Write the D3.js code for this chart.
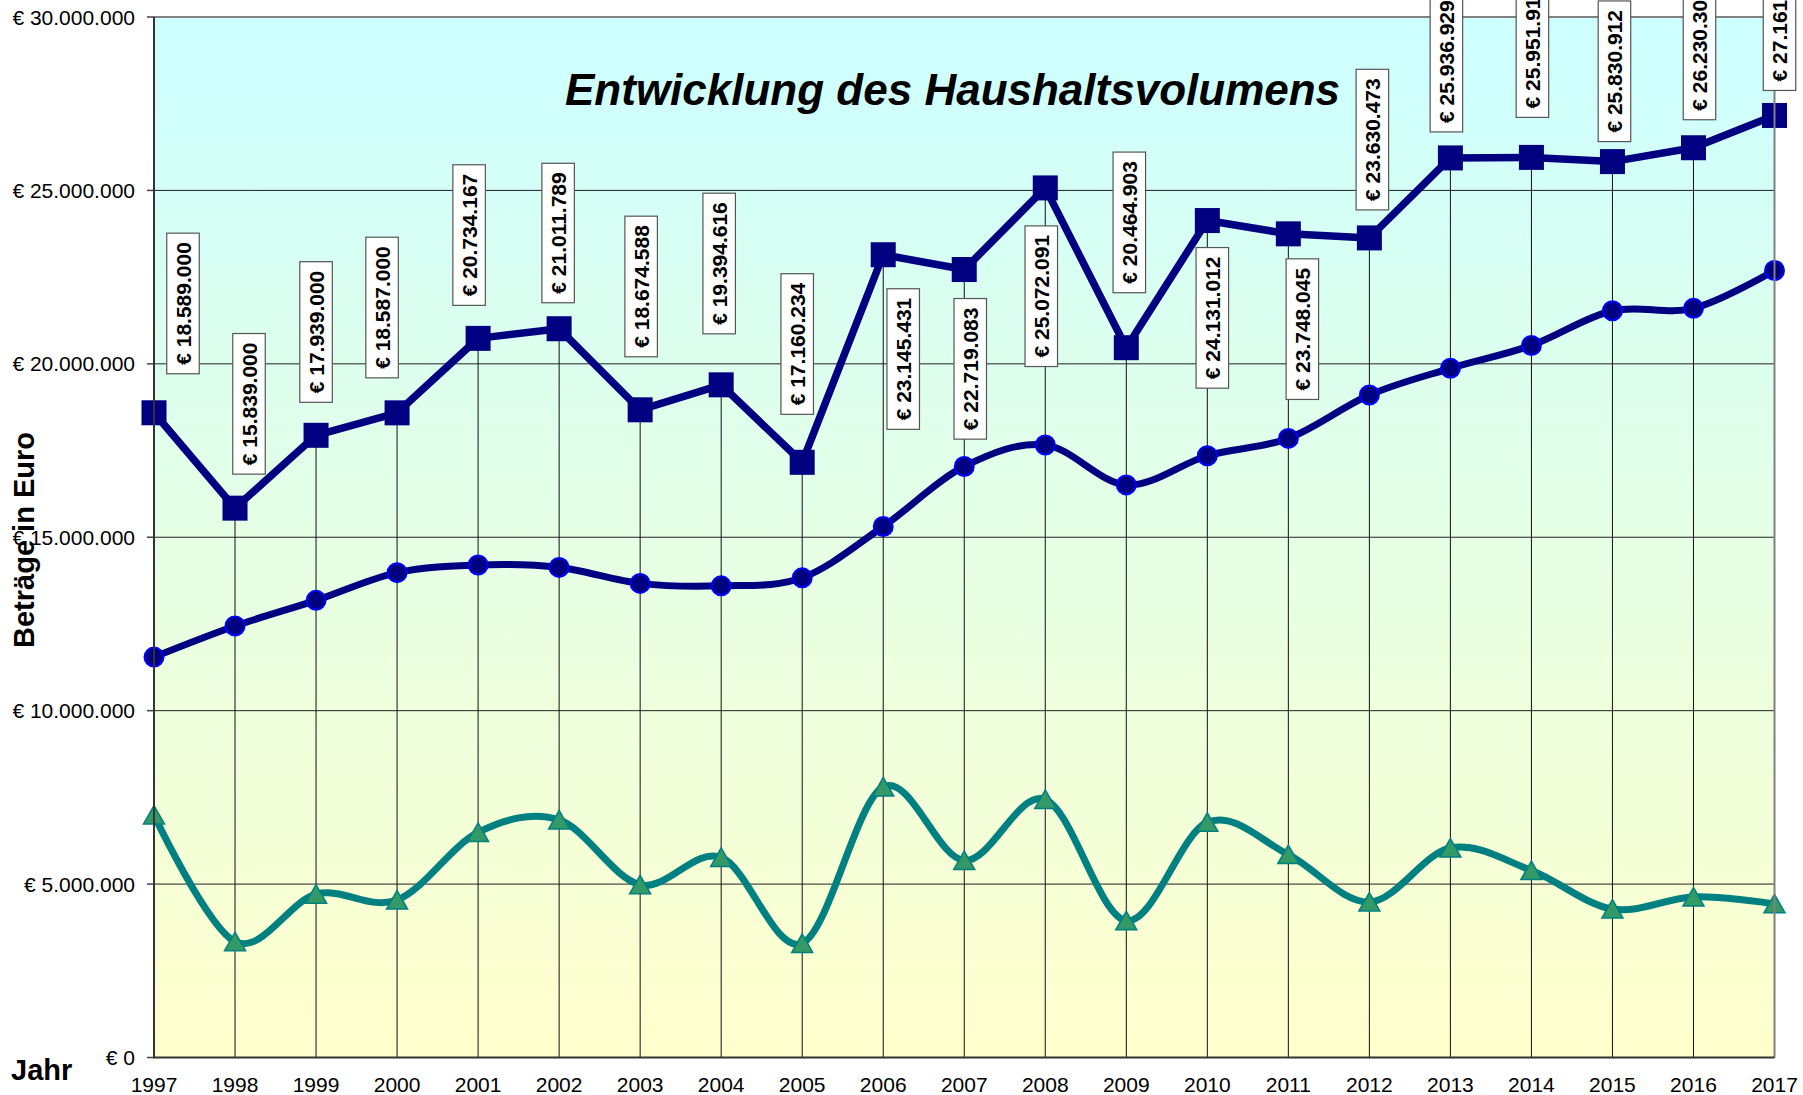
<!DOCTYPE html>
<html>
<head>
<meta charset="utf-8">
<script src="https://cdn.jsdelivr.net/npm/d3@7"></script>
<style>
  body { margin: 0; background: #fff; overflow: hidden; }
  text { font-family: "Liberation Sans", Arial, sans-serif; }
</style>
</head>
<body>
<div id="chart"></div>
<script>
// --- DATA ---
var years = [1997, 1998, 1999, 2000, 2001, 2002, 2003, 2004, 2005, 2006, 2007,
             2008, 2009, 2010, 2011, 2012, 2013, 2014, 2015, 2016, 2017];

// Gesamtvolumen (labelled series, squares)
var gesamt = [18589000, 15839000, 17939000, 18587000, 20734167, 21011789, 18674588,
              19394616, 17160234, 23145431, 22719083, 25072091, 20464903, 24131012,
              23748045, 23630473, 25936929, 25951910, 25830912, 26230300, 27161000];

// middle series (circles)
var mitte = [11545000, 12440000, 13180000, 13980000, 14200000, 14130000, 13670000,
             13600000, 13830000, 15310000, 17040000, 17660000, 16510000, 17350000,
             17850000, 19100000, 19870000, 20530000, 21530000, 21600000, 22690000];

// lower series (triangles)
var unten = [6990000, 3340000, 4710000, 4540000, 6490000, 6850000, 4980000,
             5770000, 3290000, 7800000, 5680000, 7440000, 3940000, 6780000,
             5850000, 4480000, 6040000, 5390000, 4280000, 4630000, 4430000];

var yTicks = [0, 5000000, 10000000, 15000000, 20000000, 25000000, 30000000];

// manual placement of the value boxes (as in the original sheet)
var labelBelow = [2006, 2007, 2008, 2010, 2011];
var labelDx  = [29, 14, 0, -15, -9, -1, 1, -2, -5, 20, 6, -4, 3, 5, 14, 3, -4, 1, 2, 6, 5];
var labelGap = [39, 34, 33, 35, 33, 26, 53, 51, 48, 34, 29, 38, 55, 27, 25, 28, 26, 40, 20, 28, 25];

// --- SETUP ---
var width = 1803, height = 1095;
var plot = { left: 154, top: 17, right: 1774.5, bottom: 1057.5 };

var svg = d3.select("#chart").append("svg")
  .attr("width", width)
  .attr("height", height);

var x = d3.scaleLinear().domain([1997, 2017]).range([plot.left, plot.right]);
var y = d3.scaleLinear().domain([0, 30000000]).range([plot.bottom, plot.top]);

var de = d3.formatLocale({ decimal: ",", thousands: ".", grouping: [3], currency: ["€ ", ""] });
var euro = de.format("$,.0f");

// background gradient
var defs = svg.append("defs");
var grad = defs.append("linearGradient").attr("id", "bg")
  .attr("x1", 0).attr("y1", 0).attr("x2", 0).attr("y2", 1);
grad.append("stop").attr("offset", "0%").attr("stop-color", "#ccffff");
grad.append("stop").attr("offset", "100%").attr("stop-color", "#ffffcc");

svg.append("rect")
  .attr("x", plot.left).attr("y", plot.top)
  .attr("width", plot.right - plot.left).attr("height", plot.bottom - plot.top)
  .attr("fill", "url(#bg)");

// --- GRID ---
svg.append("g").selectAll("line")
  .data(yTicks.filter(function(d) { return d > 0 && d < 30000000; }))
  .enter().append("line")
  .attr("x1", plot.left).attr("x2", plot.right)
  .attr("y1", function(d) { return y(d); }).attr("y2", function(d) { return y(d); })
  .attr("stroke", "#222").attr("stroke-width", 1);

// drop lines from the top series
svg.append("g").selectAll("line")
  .data(years)
  .enter().append("line")
  .attr("x1", function(d) { return x(d); }).attr("x2", function(d) { return x(d); })
  .attr("y1", function(d, i) { return y(gesamt[i]); }).attr("y2", plot.bottom)
  .attr("stroke", "#111").attr("stroke-width", 1);

// --- TITLE ---
svg.append("text")
  .attr("x", 565).attr("y", 105)
  .attr("font-size", 44).attr("font-weight", "bold").attr("font-style", "italic")
  .text("Entwicklung des Haushaltsvolumens");

// --- AXES ---
var yAxis = svg.append("g");
yAxis.selectAll("line.tick")
  .data(yTicks).enter().append("line")
  .attr("class", "tick")
  .attr("x1", plot.left - 7).attr("x2", plot.left)
  .attr("y1", function(d) { return y(d); }).attr("y2", function(d) { return y(d); })
  .attr("stroke", "#444").attr("stroke-width", 1.5);
yAxis.selectAll("text")
  .data(yTicks).enter().append("text")
  .attr("x", 135).attr("y", function(d) { return y(d) + 7.5; })
  .attr("text-anchor", "end").attr("font-size", 21)
  .text(function(d) { return euro(d); });

svg.append("g").selectAll("text")
  .data(years).enter().append("text")
  .attr("x", function(d) { return x(d); }).attr("y", 1092)
  .attr("text-anchor", "middle").attr("font-size", 21)
  .text(function(d) { return d; });

svg.append("text")
  .attr("transform", "translate(34,540) rotate(-90)")
  .attr("text-anchor", "middle").attr("font-size", 29).attr("font-weight", "bold")
  .text("Beträge in Euro");

svg.append("text")
  .attr("x", 11).attr("y", 1080)
  .attr("font-size", 29).attr("font-weight", "bold")
  .text("Jahr");

// --- SERIES ---
function pts(values) {
  return years.map(function(yr, i) { return [x(yr), y(values[i])]; });
}

var smooth = d3.line().curve(d3.curveCardinal.tension(0));
var straight = d3.line();

svg.append("path").attr("d", smooth(pts(unten)))
  .attr("fill", "none").attr("stroke", "#008080").attr("stroke-width", 7)
  .attr("stroke-linejoin", "round");

svg.append("path").attr("d", smooth(pts(mitte)))
  .attr("fill", "none").attr("stroke", "#000080").attr("stroke-width", 7)
  .attr("stroke-linejoin", "round");

svg.append("path").attr("d", straight(pts(gesamt)))
  .attr("fill", "none").attr("stroke", "#000080").attr("stroke-width", 7.5)
  .attr("stroke-linejoin", "round");

// markers
svg.append("g").selectAll("path")
  .data(pts(unten)).enter().append("path")
  .attr("d", function(p) {
    return "M" + p[0] + "," + (p[1] - 9.5) + "L" + (p[0] + 10.5) + "," + (p[1] + 9) +
           "L" + (p[0] - 10.5) + "," + (p[1] + 9) + "Z";
  })
  .attr("fill", "#339966").attr("stroke", "#008080").attr("stroke-width", 1.5);

svg.append("g").selectAll("circle")
  .data(pts(mitte)).enter().append("circle")
  .attr("cx", function(p) { return p[0]; }).attr("cy", function(p) { return p[1]; })
  .attr("r", 9.5)
  .attr("fill", "#000080").attr("stroke", "#0000ff").attr("stroke-width", 2);

svg.append("g").selectAll("rect")
  .data(pts(gesamt)).enter().append("rect")
  .attr("x", function(p) { return p[0] - 12.5; }).attr("y", function(p) { return p[1] - 12.5; })
  .attr("width", 25).attr("height", 25)
  .attr("fill", "#000080");

// right / top frame
svg.append("path")
  .attr("d", "M" + plot.left + "," + plot.top + "H" + plot.right + "V" + plot.bottom)
  .attr("fill", "none").attr("stroke", "#808080").attr("stroke-width", 2);
svg.append("path")
  .attr("d", "M" + plot.left + "," + plot.top + "V" + plot.bottom + "H" + plot.right)
  .attr("fill", "none").attr("stroke", "#333").attr("stroke-width", 2);

// --- VALUE LABELS ---
var labels = svg.append("g");
years.forEach(function(yr, i) {
  var px = x(yr), py = y(gesamt[i]);
  var cx = px + labelDx[i];
  var g = labels.append("g");
  var box = g.append("rect")
    .attr("fill", "#fff").attr("stroke", "#555").attr("stroke-width", 1.2);
  var t = g.append("text")
    .attr("text-anchor", "middle").attr("font-size", 21).attr("font-weight", "bold")
    .attr("dy", "0.36em")
    .text(euro(gesamt[i]));
  var h = t.node().getComputedTextLength() + 18;
  var w = 32.5;
  var top = labelBelow.indexOf(yr) >= 0 ? py + labelGap[i] : py - labelGap[i] - h;
  box.attr("x", cx - w / 2).attr("y", top).attr("width", w).attr("height", h);
  t.attr("transform", "translate(" + cx + "," + (top + h / 2) + ") rotate(-90)");
});
</script>
</body>
</html>
